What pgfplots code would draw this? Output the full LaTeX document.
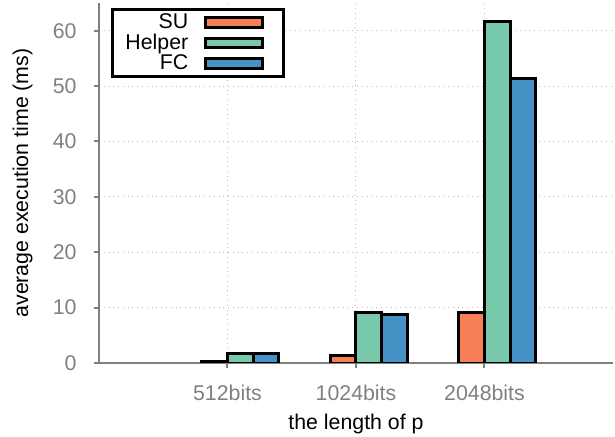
\documentclass[border=0pt]{standalone}
\usepackage{fontspec}
\setmainfont{Liberation Sans}
\usepackage{pgfplots}
\pgfplotsset{compat=1.18}
\definecolor{cSU}{RGB}{246,127,86}
\definecolor{cHE}{RGB}{120,200,172}
\definecolor{cFC}{RGB}{70,146,198}
\definecolor{axgray}{RGB}{128,128,128}
\pgfplotsset{
  legbar/.style={legend image code/.code={\draw[##1, line width=1.5bp] (0bp,-2.4bp) rectangle (28.5bp,2.4bp); \path (33.5bp,0bp);}},
}
\begin{document}
\fontsize{10.7}{12.8}\selectfont
\begin{tikzpicture}
\begin{axis}[
  scale only axis, width=257bp, height=180bp,
  xmin=0, xmax=4, ymin=0, ymax=65,
  xtick={1,2,3}, xticklabels={512bits,1024bits,2048bits},
  ytick={0,10,20,30,40,50,60},
  axis lines*=left,
  axis line style={axgray, line width=1.3bp},
  tick style={axgray, line width=1bp},
  tick align=outside, major tick length=2.5bp,
  xmajorgrids, ymajorgrids,
  major grid style={gray!55, dotted, line width=0.5bp},
  tick label style={text=axgray, font=\fontsize{10.7}{12.8}\selectfont},
  /pgf/number format/assume math mode=true,
  yticklabel style={xshift=-5bp},
  xticklabel style={yshift=-5bp},
  label style={font=\fontsize{10.7}{12.8}\selectfont},
  xlabel={the length of p},
  ylabel={average execution time (ms)},
  xlabel style={at={(axis description cs:0.5,-0.185)}, anchor=base},
  ylabel style={at={(axis description cs:-0.1381,0.5)}, anchor=base},
  legend plot pos=right,
  legend cell align=right,
  legend style={at={(axis description cs:0.0233,0.986)}, anchor=north west,
    draw=black, line width=1.5bp, inner xsep=4.5bp, inner ysep=0bp,
    font=\fontsize{10.7}{12.8}\selectfont, row sep=-3bp, column sep=6bp},
]
\addplot[ybar, bar width=0.2, bar shift=-0.1, fill=cSU, draw=black, line width=1.5bp, legbar]
  coordinates {(1,0.2) (2,1.3) (3,9.2)};
\addlegendentry{SU}
\addplot[ybar, bar width=0.2, bar shift=0.1, fill=cHE, draw=black, line width=1.5bp, legbar]
  coordinates {(1,1.75) (2,9.1) (3,61.6)};
\addlegendentry{Helper}
\addplot[ybar, bar width=0.2, bar shift=0.3, fill=cFC, draw=black, line width=1.5bp, legbar]
  coordinates {(1,1.8) (2,8.8) (3,51.4)};
\addlegendentry{FC}
\end{axis}
\pgfresetboundingbox
\path[use as bounding box] (-49.5bp,-37bp) rectangle (258bp,181.5bp);
\end{tikzpicture}
\end{document}
